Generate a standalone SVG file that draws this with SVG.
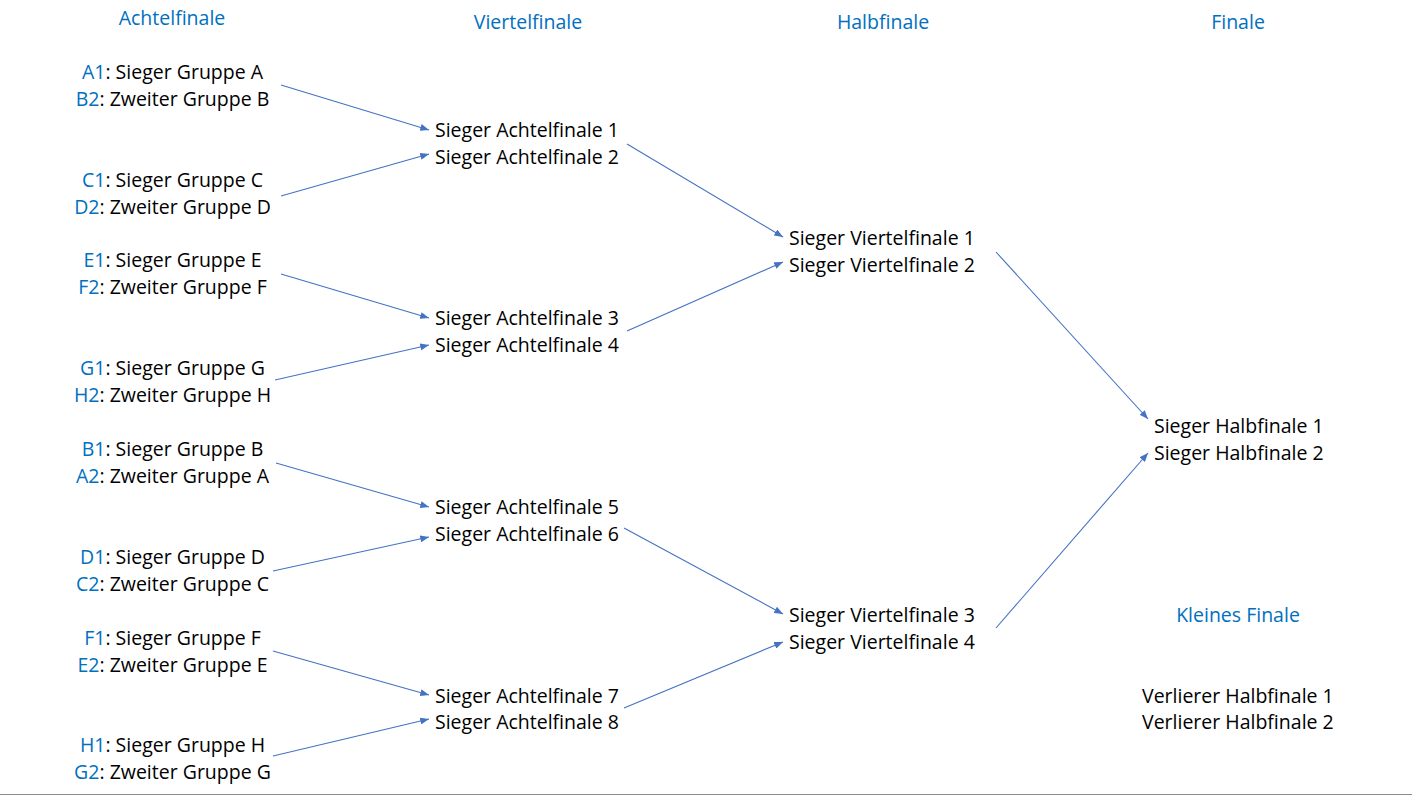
<svg xmlns="http://www.w3.org/2000/svg" width="1412" height="795" viewBox="0 0 1412 795">
<style>
text{font-family:"Open Sans","Noto Sans","DejaVu Sans",sans-serif;font-size:19.5px;fill:#000}
.h,.b{fill:#0070C0}
.l{text-anchor:middle}
.c{fill:none;stroke:#4472C4;stroke-width:1.1;marker-end:url(#ah)}
</style>
<defs>
<marker id="ah" viewBox="0 0 10 8" refX="10" refY="4" markerWidth="9" markerHeight="7" markerUnits="userSpaceOnUse" orient="auto">
<path d="M0,0L10,4L0,8z" fill="#4472C4"/>
</marker>
</defs>
<rect width="1412" height="795" fill="#fff"/>
<line x1="0" y1="794.5" x2="1412" y2="794.5" stroke="#8c8c8c" stroke-width="1"/>
<g id="headers">
<text id="h-achtel" class="h" x="172" y="25" text-anchor="middle">Achtelfinale</text>
<text id="h-viertel" class="h" x="528" y="29" text-anchor="middle">Viertelfinale</text>
<text id="h-halb" class="h" x="883" y="29" text-anchor="middle">Halbfinale</text>
<text id="h-finale" class="h" x="1238" y="29" text-anchor="middle">Finale</text>
<text id="h-kleines" class="h" x="1238" y="622" text-anchor="middle">Kleines Finale</text>
</g>
<g id="af1" class="l"><text class="l" x="172.5" y="79"><tspan class="b">A1</tspan>: Sieger Gruppe A</text><text class="l" x="172.5" y="106"><tspan class="b">B2</tspan>: Zweiter Gruppe B</text></g>
<g id="af2"><text class="l" x="172.5" y="187"><tspan class="b">C1</tspan>: Sieger Gruppe C</text><text class="l" x="172.5" y="214"><tspan class="b">D2</tspan>: Zweiter Gruppe D</text></g>
<g id="af3"><text class="l" x="172.5" y="267"><tspan class="b">E1</tspan>: Sieger Gruppe E</text><text class="l" x="172.5" y="294"><tspan class="b">F2</tspan>: Zweiter Gruppe F</text></g>
<g id="af4"><text class="l" x="172.5" y="375"><tspan class="b">G1</tspan>: Sieger Gruppe G</text><text class="l" x="172.5" y="402"><tspan class="b">H2</tspan>: Zweiter Gruppe H</text></g>
<g id="af5"><text class="l" x="172.5" y="456"><tspan class="b">B1</tspan>: Sieger Gruppe B</text><text class="l" x="172.5" y="483"><tspan class="b">A2</tspan>: Zweiter Gruppe A</text></g>
<g id="af6"><text class="l" x="172.5" y="564"><tspan class="b">D1</tspan>: Sieger Gruppe D</text><text class="l" x="172.5" y="591"><tspan class="b">C2</tspan>: Zweiter Gruppe C</text></g>
<g id="af7"><text class="l" x="172.5" y="645"><tspan class="b">F1</tspan>: Sieger Gruppe F</text><text class="l" x="172.5" y="672"><tspan class="b">E2</tspan>: Zweiter Gruppe E</text></g>
<g id="af8"><text class="l" x="172.5" y="752"><tspan class="b">H1</tspan>: Sieger Gruppe H</text><text class="l" x="172.5" y="779"><tspan class="b">G2</tspan>: Zweiter Gruppe G</text></g>
<g id="vf1"><text x="435" y="137">Sieger Achtelfinale 1</text><text x="435" y="164">Sieger Achtelfinale 2</text></g>
<g id="vf2"><text x="435" y="325">Sieger Achtelfinale 3</text><text x="435" y="352">Sieger Achtelfinale 4</text></g>
<g id="vf3"><text x="435" y="514">Sieger Achtelfinale 5</text><text x="435" y="541">Sieger Achtelfinale 6</text></g>
<g id="vf4"><text x="435" y="703">Sieger Achtelfinale 7</text><text x="435" y="729">Sieger Achtelfinale 8</text></g>
<g id="hf1"><text x="789" y="245">Sieger Viertelfinale 1</text><text x="789" y="272">Sieger Viertelfinale 2</text></g>
<g id="hf2"><text x="789" y="622">Sieger Viertelfinale 3</text><text x="789" y="649">Sieger Viertelfinale 4</text></g>
<g id="fin"><text x="1154" y="433">Sieger Halbfinale 1</text><text x="1154" y="460">Sieger Halbfinale 2</text></g>
<g id="kf"><text x="1142" y="703">Verlierer Halbfinale 1</text><text x="1142" y="729">Verlierer Halbfinale 2</text></g>
<g id="connectors">
<line class="c" x1="281" y1="85" x2="429" y2="130"/>
<line class="c" x1="281" y1="196" x2="429" y2="154"/>
<line class="c" x1="281" y1="274" x2="429" y2="318"/>
<line class="c" x1="275" y1="380" x2="429" y2="345"/>
<line class="c" x1="276" y1="463" x2="429" y2="507"/>
<line class="c" x1="273" y1="571" x2="429" y2="537"/>
<line class="c" x1="273" y1="651" x2="429" y2="695"/>
<line class="c" x1="273" y1="756" x2="429" y2="719"/>
<line class="c" x1="627" y1="144" x2="783" y2="237"/>
<line class="c" x1="627" y1="331" x2="783" y2="262"/>
<line class="c" x1="624" y1="528" x2="783" y2="614"/>
<line class="c" x1="624" y1="708" x2="783" y2="642"/>
<line class="c" x1="996" y1="252" x2="1148" y2="419"/>
<line class="c" x1="996" y1="628" x2="1148" y2="453"/>
</g>
</svg>
